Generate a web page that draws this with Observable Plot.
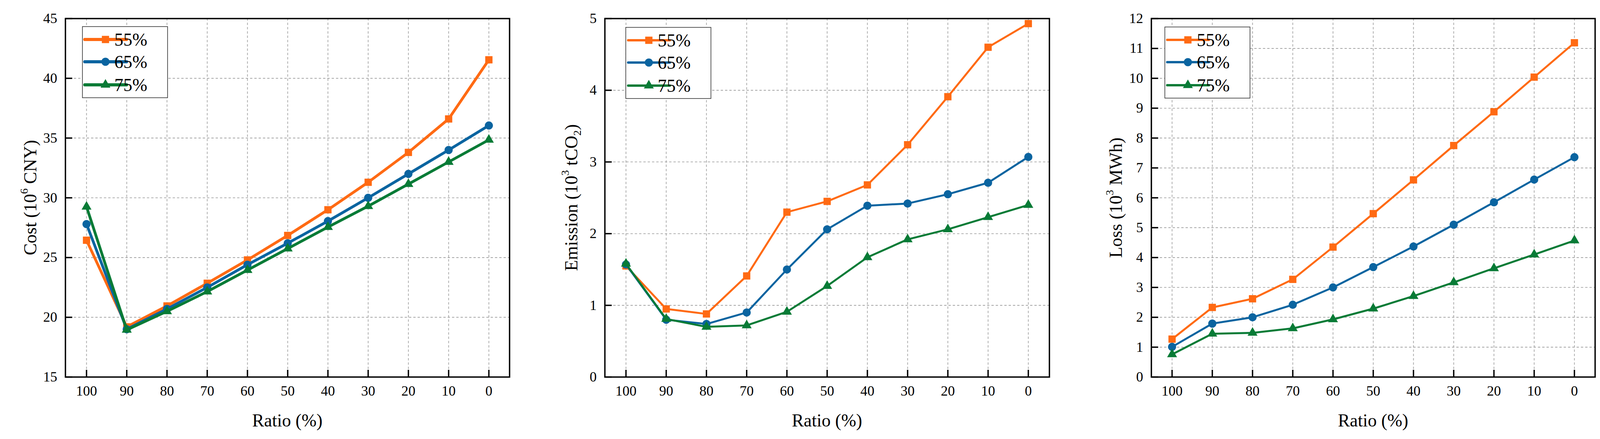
<!DOCTYPE html>
<html>
<head>
<meta charset="utf-8">
<script src="https://cdn.jsdelivr.net/npm/d3@7"></script>
<script src="https://cdn.jsdelivr.net/npm/@observablehq/plot@0.6"></script>
<style>
  body { margin: 0; background: #fff; }
  #wrap { position: relative; width: 4122px; height: 1123px; }
  .panel { position: absolute; top: 0; }
</style>
</head>
<body>
<div id="wrap"></div>
<script>
// x categories (share of ratio, read right to left)
const ratios = [100, 90, 80, 70, 60, 50, 40, 30, 20, 10, 0];
const seriesNames = ["55%", "65%", "75%"];
const colors = ["#FF6A13", "#0A64A0", "#087B36"];
const symbols = ["square", "circle", "triangle"];

// Cost (10^6 CNY)
const cost55 = [26.45, 19.2, 20.95, 22.85, 24.8, 26.85, 29.0, 31.3, 33.8, 36.6, 41.55];
const cost65 = [27.8, 19.0, 20.7, 22.5, 24.4, 26.2, 28.05, 30.0, 32.0, 34.0, 36.05];
const cost75 = [29.25, 18.95, 20.5, 22.15, 23.95, 25.75, 27.55, 29.3, 31.15, 33.0, 34.85];
const costTicks = [15, 20, 25, 30, 35, 40, 45];

// Emission (10^3 tCO2)
const em55 = [1.55, 0.95, 0.88, 1.41, 2.3, 2.45, 2.68, 3.24, 3.91, 4.6, 4.93];
const em65 = [1.57, 0.8, 0.74, 0.9, 1.5, 2.06, 2.39, 2.42, 2.55, 2.71, 3.07];
const em75 = [1.58, 0.81, 0.7, 0.72, 0.91, 1.27, 1.67, 1.92, 2.06, 2.23, 2.4];
const emTicks = [0, 1, 2, 3, 4, 5];

// Loss (10^3 MWh)
const loss55 = [1.27, 2.33, 2.62, 3.27, 4.35, 5.47, 6.6, 7.75, 8.88, 10.04, 11.19];
const loss65 = [1.01, 1.79, 2.0, 2.42, 3.0, 3.68, 4.37, 5.1, 5.85, 6.61, 7.36];
const loss75 = [0.76, 1.45, 1.48, 1.63, 1.93, 2.29, 2.71, 3.17, 3.64, 4.1, 4.57];
const lossTicks = [0, 1, 2, 3, 4, 5, 6, 7, 8, 9, 10, 11, 12];

const W = 1374, H = 1123, MT = 47, MB = 159;
const FONT = "'Liberation Serif', 'Times New Roman', serif";

function panel(opts) {
  const plotW = W - opts.ml - opts.mr;
  const plotH = H - MT - MB;
  const grid = {stroke: "#9b9b9b", strokeOpacity: 1, strokeWidth: 1.6, strokeDasharray: "6,5"};

  let seriesMarks = [];
  opts.values.forEach((vals, i) => {
    const rows = ratios.map((r, j) => ({ratio: r, value: vals[j]}));
    seriesMarks.push(Plot.line(rows, {x: "ratio", y: "value", stroke: colors[i], strokeWidth: opts.lw, strokeLinejoin: "round"}));
    seriesMarks.push(Plot.dot(rows, {x: "ratio", y: "value", symbol: symbols[i], r: i == 2 ? opts.r * 0.9 : opts.r, fill: colors[i], stroke: "none"}));
  });

  const chart = Plot.plot({
    width: W,
    height: H,
    marginLeft: opts.ml,
    marginRight: opts.mr,
    marginTop: MT,
    marginBottom: MB,
    style: {fontFamily: FONT, fontSize: "36px", background: "white", color: "black"},
    x: {type: "point", domain: ratios, padding: 0.5},
    y: {domain: opts.domain},
    marks: [
      Plot.gridY(opts.ticks, grid),
      Plot.gridX(ratios, grid),
      ...seriesMarks,
      // inward ticks
      Plot.ruleX(ratios, {insetTop: plotH - 18, stroke: "black", strokeWidth: 3.5}),
      Plot.ruleY(opts.ticks, {insetRight: plotW - 18, stroke: "black", strokeWidth: 3.5}),
      Plot.axisX(ratios, {tickSize: 0, tickPadding: 22, fontSize: 36, fontFamily: FONT, label: null, tickFormat: d => String(d)}),
      Plot.axisY(opts.ticks, {tickSize: 0, tickPadding: 21, fontSize: 36, fontFamily: FONT, label: null, tickFormat: d => String(d)}),
      Plot.frame({stroke: "black", strokeWidth: 3.5})
    ]
  });

  const svg = d3.select(chart);

  // y axis title with superscript / subscript
  const yt = svg.append("text")
    .attr("transform", `translate(${opts.ml - opts.titleOff},${MT + plotH / 2}) rotate(-90)`)
    .attr("text-anchor", "middle")
    .attr("dominant-baseline", "central")
    .attr("font-family", FONT)
    .attr("font-size", 46)
    .attr("fill", "black");
  opts.title.forEach(part => {
    const t = yt.append("tspan").text(part.t);
    if (part.sup) t.attr("baseline-shift", "super").attr("font-size", 28);
    if (part.sub) t.attr("baseline-shift", "sub").attr("font-size", 28);
  });

  // x axis title
  svg.append("text")
    .attr("x", opts.ml + plotW / 2)
    .attr("y", 1091)
    .attr("text-anchor", "middle")
    .attr("font-family", FONT)
    .attr("font-size", 46)
    .attr("fill", "black")
    .text("Ratio (%)");

  // legend box
  const lg = svg.append("g").attr("transform", `translate(${opts.legX},${opts.legY})`);
  lg.append("rect").attr("width", 218).attr("height", 182)
    .attr("fill", "white").attr("stroke", "#333").attr("stroke-width", 1.6);
  const rowsY = [33, 90, 149];
  const d3sym = [d3.symbolSquare, d3.symbolCircle, d3.symbolTriangle];
  seriesNames.forEach((name, i) => {
    const y = rowsY[i];
    lg.append("line").attr("x1", 6).attr("x2", 113).attr("y1", y).attr("y2", y)
      .attr("stroke", colors[i]).attr("stroke-width", opts.lw + 1).attr("stroke-linecap", "round");
    const rr = i == 2 ? opts.r * 0.9 : opts.r;
    lg.append("path").attr("transform", `translate(59,${y})`)
      .attr("d", d3.symbol(d3sym[i], Math.PI * rr * rr)())
      .attr("fill", colors[i]);
    lg.append("text").attr("x", 124).attr("y", y)
      .attr("dominant-baseline", "central")
      .attr("font-family", FONT).attr("font-size", 46).attr("fill", "black")
      .text(name);
  });

  const div = document.createElement("div");
  div.className = "panel";
  div.style.left = opts.left + "px";
  div.appendChild(chart);
  document.getElementById("wrap").appendChild(div);
}

panel({
  left: 0, ml: 167, mr: 70, lw: 7, r: 10.5, titleOff: 90,
  values: [cost55, cost65, cost75], domain: [15, 45], ticks: costTicks,
  title: [{t: "Cost (10"}, {t: "6", sup: true}, {t: " CNY)"}],
  legX: 211, legY: 68
});
panel({
  left: 1374, ml: 174, mr: 62, lw: 5, r: 10.5, titleOff: 86,
  values: [em55, em65, em75], domain: [0, 5], ticks: emTicks,
  title: [{t: "Emission (10"}, {t: "3", sup: true}, {t: " tCO"}, {t: "2", sub: true}, {t: ")"}],
  legX: 228, legY: 70
});
panel({
  left: 2748, ml: 199, mr: 39, lw: 5, r: 10.5, titleOff: 91,
  values: [loss55, loss65, loss75], domain: [0, 12], ticks: lossTicks,
  title: [{t: "Loss (10"}, {t: "3", sup: true}, {t: " MWh)"}],
  legX: 234, legY: 69
});
</script>
</body>
</html>
